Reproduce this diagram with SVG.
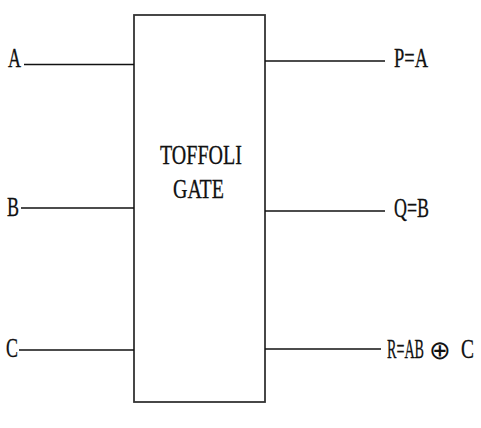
<svg xmlns="http://www.w3.org/2000/svg" width="481" height="428" viewBox="0 0 481 428">
<style>
.t{font-family:"Liberation Serif","Times New Roman",serif;font-size:27px;fill:#111;stroke:#111;stroke-width:0.3}
.w{stroke:#111;stroke-width:1.6;fill:none}
.box{fill:#fff;stroke:#333;stroke-width:1.8}
.x{font-family:"DejaVu Sans",sans-serif;font-weight:200;font-size:26px;stroke:none}
</style>
<rect width="481" height="428" fill="#fff"/>
<g id="gate">
<rect class="box" x="134" y="15" width="131" height="387"/>
<text class="t" x="160" y="164" textLength="82" lengthAdjust="spacingAndGlyphs">TOFFOLI</text>
<text class="t" x="173" y="198" textLength="51" lengthAdjust="spacingAndGlyphs">GATE</text>
</g>
<g id="connectors">
<line class="w" x1="24" y1="64.5" x2="134" y2="64.5"/>
<line class="w" x1="21" y1="208" x2="134" y2="208"/>
<line class="w" x1="19" y1="350" x2="134" y2="350"/>
<line class="w" x1="265" y1="61" x2="385" y2="61"/>
<line class="w" x1="265" y1="211" x2="385" y2="211"/>
<line class="w" x1="265" y1="349" x2="381" y2="349"/>
</g>
<g id="in-A"><text class="t" x="8" y="67" textLength="13" lengthAdjust="spacingAndGlyphs">A</text></g>
<g id="in-B"><text class="t" x="7" y="216" textLength="12" lengthAdjust="spacingAndGlyphs">B</text></g>
<g id="in-C"><text class="t" x="6" y="357" textLength="12" lengthAdjust="spacingAndGlyphs">C</text></g>
<g id="out-P"><text class="t" x="394" y="67" textLength="34" lengthAdjust="spacingAndGlyphs">P=A</text></g>
<g id="out-Q"><text class="t" x="394" y="217" textLength="35" lengthAdjust="spacingAndGlyphs">Q=B</text></g>
<g id="out-R">
<text class="t" y="358"><tspan x="387" textLength="37" lengthAdjust="spacingAndGlyphs">R=AB</tspan><tspan class="x" x="429" y="359">⊕</tspan><tspan x="461" y="358" textLength="13" lengthAdjust="spacingAndGlyphs">C</tspan></text>
</g>
</svg>
